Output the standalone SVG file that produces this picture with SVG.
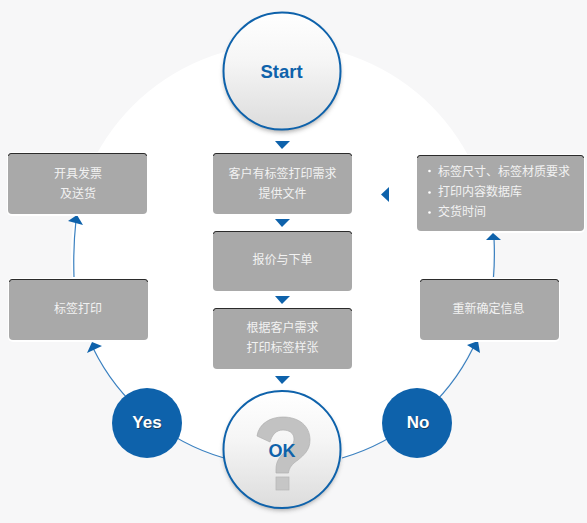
<svg xmlns="http://www.w3.org/2000/svg" width="587" height="523" viewBox="0 0 587 523">
<defs>
<linearGradient id="ball" x1="0" y1="0" x2="0" y2="1"><stop offset="0" stop-color="#ffffff"/><stop offset="0.4" stop-color="#f6f6f6"/><stop offset="1" stop-color="#dcdcdc"/></linearGradient>
<filter id="sh" x="-20%" y="-20%" width="140%" height="140%"><feGaussianBlur stdDeviation="2.5"/></filter>
</defs>
<style>
.halo{fill:#ffffff}
.box{fill:#a9a9a9}
.top{fill:none;stroke:#2b2b2b;stroke-width:1}
.t{font-family:"Liberation Sans","Noto Sans CJK SC",sans-serif;font-size:12px;fill:#f2f2f2;text-anchor:middle}
.l{text-anchor:start}
.b{font-family:"Liberation Sans",Arial,sans-serif;font-weight:bold;text-anchor:middle}
.arc{fill:none;stroke:#3a80c0;stroke-width:1.2}
.ah{fill:#0e62ab}
.ring{fill:url(#ball);stroke:#0e62ab;stroke-width:2}
.shadow{fill:#555;opacity:.55}
.dot{fill:#0e62ab}
</style>
<rect width="587" height="523" fill="#f7f7f8"/>
<circle cx="282" cy="255" r="211" fill="#ffffff"/>
<g id="connectors">
<path class="arc" d="M224 458A211 211 0 0 1 93 348"/>
<path class="arc" d="M342 458A211 211 0 0 0 473 348"/>
<path class="arc" d="M74 277Q73 248 76 220"/>
<path class="arc" d="M493.500 277Q495 258 494 238"/>
<polygon class="ah" points="92,342 102,346 87,353"/>
<polygon class="ah" points="467,345 478,341 480,353"/>
<polygon class="ah" points="68,221 83,225 77,215"/>
<polygon class="ah" points="486,240 501,240 493,233"/>
<polygon class="ah" points="275,141 290,141 282,149"/>
<polygon class="ah" points="275,219 290,219 282,227"/>
<polygon class="ah" points="275,296 290,296 282,304"/>
<polygon class="ah" points="275,376 290,376 282,384"/>
<polygon class="ah" points="389,187 389,202 381,194.500"/>
</g>
<g id="start">
<circle class="shadow" cx="282" cy="74" r="58" filter="url(#sh)"/>
<circle class="ring" cx="282" cy="71" r="58.500"/>
<text class="b" x="281.500" y="78" font-size="18.500" fill="#0e62ab">Start</text>
</g>
<g id="step-quote-request">
<rect class="halo" x="212" y="152" width="141" height="64" rx="5"/>
<rect class="box" x="213" y="153" width="139" height="61" rx="4"/>
<path class="top" d="M213.500 156Q213.500 153.500 216 153.500H349Q351.500 153.500 351.500 156"/>
<text class="t" x="282.500" y="178">客户有标签打印需求</text>
<text class="t" x="282.500" y="198">提供文件</text>
</g>
<g id="step-order">
<rect class="halo" x="212" y="230" width="141" height="63" rx="5"/>
<rect class="box" x="213" y="231" width="139" height="60" rx="4"/>
<path class="top" d="M213.500 234Q213.500 231.500 216 231.500H349Q351.500 231.500 351.500 234"/>
<text class="t" x="282.500" y="264">报价与下单</text>
</g>
<g id="step-sample">
<rect class="halo" x="212" y="307" width="141" height="64" rx="5"/>
<rect class="box" x="213" y="308" width="139" height="61" rx="4"/>
<path class="top" d="M213.500 311Q213.500 308.500 216 308.500H349Q351.500 308.500 351.500 311"/>
<text class="t" x="282.500" y="332">根据客户需求</text>
<text class="t" x="282.500" y="352">打印标签样张</text>
</g>
<g id="step-info">
<rect class="halo" x="416" y="154" width="169" height="79" rx="5"/>
<rect class="box" x="417" y="155" width="167" height="76" rx="4"/>
<path class="top" d="M417.500 158Q417.500 155.500 420 155.500H581Q583.500 155.500 583.500 158"/>
<circle cx="429.500" cy="171" r="1.300" fill="#fff"/>
<circle cx="429.500" cy="192.500" r="1.300" fill="#fff"/>
<circle cx="429.500" cy="212.500" r="1.300" fill="#fff"/>
<text class="t l" x="438" y="176">标签尺寸、标签材质要求</text>
<text class="t l" x="438" y="196">打印内容数据库</text>
<text class="t l" x="438" y="216">交货时间</text>
</g>
<g id="step-reconfirm">
<rect class="halo" x="419" y="278" width="141" height="64" rx="5"/>
<rect class="box" x="420" y="279" width="139" height="61" rx="4"/>
<path class="top" d="M420.500 282Q420.500 279.500 423 279.500H556Q558.500 279.500 558.500 282"/>
<text class="t" x="488.500" y="313">重新确定信息</text>
</g>
<g id="step-invoice">
<rect class="halo" x="7" y="152" width="141" height="64" rx="5"/>
<rect class="box" x="8" y="153" width="139" height="61" rx="4"/>
<path class="top" d="M8.500 156Q8.500 153.500 11 153.500H144Q146.500 153.500 146.500 156"/>
<text class="t" x="78" y="178">开具发票</text>
<text class="t" x="78" y="198">及送货</text>
</g>
<g id="step-print">
<rect class="halo" x="8" y="278" width="141" height="64" rx="5"/>
<rect class="box" x="9" y="279" width="139" height="61" rx="4"/>
<path class="top" d="M9.500 282Q9.500 279.500 12 279.500H145Q147.500 279.500 147.500 282"/>
<text class="t" x="78" y="313">标签打印</text>
</g>
<g id="yes">
<circle class="dot" cx="147" cy="423" r="35"/>
<text class="b" x="147" y="428" font-size="17" fill="#1a3a5a" transform="translate(.8 1)">Yes</text>
<text class="b" x="147" y="428" font-size="17" fill="#fff">Yes</text>
</g>
<g id="no">
<circle class="dot" cx="417" cy="423" r="35"/>
<text class="b" x="418" y="428" font-size="17" fill="#1a3a5a" transform="translate(.8 1)">No</text>
<text class="b" x="418" y="428" font-size="17" fill="#fff">No</text>
</g>
<g id="ok">
<circle class="shadow" cx="282" cy="452" r="58" filter="url(#sh)"/>
<circle class="ring" cx="282" cy="449.500" r="58.500"/>
<path d="M257 436C259 423 271 417 283 417C299 417 310 426 310 440C310 450 304 455 298 460C292 464 289 468 288.500 473H276V469C276 461 280 456 286 451C291 447 294 444 294 439C294 433 289 430 283 430C276 430 272 435 270 442Z" fill="#c2c2c2" stroke="#b0b0b0" stroke-width=".7"/>
<rect x="276" y="477" width="13" height="13" fill="#c6c6c6" stroke="#b4b4b4" stroke-width=".7"/>
<text class="b" x="282" y="457" font-size="18" fill="#0e62ab">OK</text>
</g>
</svg>
